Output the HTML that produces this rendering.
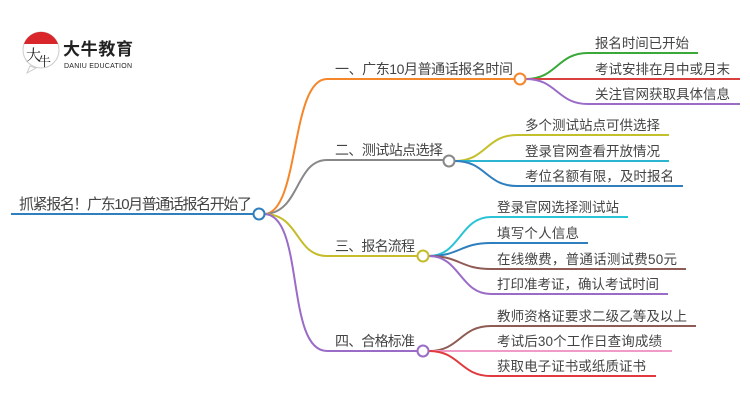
<!DOCTYPE html>
<html><head><meta charset="utf-8"><style>
html,body{margin:0;padding:0;background:#fff;width:750px;height:410px;overflow:hidden}
text{font-family:"Liberation Sans","Noto Sans CJK SC",sans-serif;fill:#444;font-size:13.5px}
</style></head><body>
<svg width="750" height="410" viewBox="0 0 750 410" xmlns="http://www.w3.org/2000/svg">
<!-- logo -->
<circle cx="41" cy="50" r="18" fill="#fff" stroke="#ccc" stroke-width="1"/>
<path d="M24,44 A18,18 0 0 1 58,44 Z" fill="#d9262b"/>
<path d="M30,66 L27,73 L36,68 Z" fill="#fff" stroke="#ccc" stroke-width="1"/>
<text x="26" y="60" style="font-size:15px;fill:#222;font-family:'Noto Serif CJK SC',serif">大</text>
<text x="38" y="66" style="font-size:13px;fill:#222;font-family:'Noto Serif CJK SC',serif">牛</text>
<text x="63" y="55" style="font-size:17px;font-weight:bold;fill:#222" textLength="70">大牛教育</text>
<text x="64" y="68" style="font-size:7px;fill:#222" textLength="68">DANIU EDUCATION</text>

<g fill="none" stroke-width="2">
<!-- root -->
<path d="M11,214 H254" stroke="#2f7fbf"/>
<!-- root to branches -->
<path d="M264,214 C300,214 290,79 327,79 H514" stroke="#f5862a"/>
<path d="M264,214 C300,214 295,160 327,160 H443" stroke="#888"/>
<path d="M264,214 C300,214 295,256 327,256 H417" stroke="#c4bc2a"/>
<path d="M264,214 C305,214 285,351 327,351 H417" stroke="#9a6bc7"/>
<!-- b1 subs -->
<path d="M526,79 C557,79 557,53 588,53 H698" stroke="#3aa93a"/>
<path d="M526,79 H740" stroke="#d9413e"/>
<path d="M526,79 C557,79 557,104 588,104 H740" stroke="#9b6bc8"/>
<!-- b2 subs -->
<path d="M455,161 C486,161 486,135 517,135 H669" stroke="#c4c02c"/>
<path d="M455,161 H669" stroke="#2bb5d1"/>
<path d="M455,161 C486,161 486,186 517,186 H683" stroke="#2f7fbf"/>
<!-- b3 subs -->
<path d="M429,256 C460,256 460,217 491,217 H628" stroke="#2bc3d6"/>
<path d="M429,256 C460,256 460,243 491,243 H588" stroke="#2f7fbf"/>
<path d="M429,256 C460,256 460,269 491,269 H686" stroke="#8f5c55"/>
<path d="M429,256 C460,256 460,294 491,294 H668" stroke="#9a6bc7"/>
<!-- b4 subs -->
<path d="M429,351 C460,351 460,326 491,326 H696" stroke="#8f5c55"/>
<path d="M429,351 H672" stroke="#f09ac8"/>
<path d="M429,351 C460,351 460,376 491,376 H656" stroke="#e0393e"/>
</g>
<g fill="#fff" stroke-width="2">
<circle cx="259" cy="214" r="5.5" stroke="#2f7fbf"/>
<circle cx="520" cy="79" r="5.5" stroke="#f5862a"/>
<circle cx="449" cy="161" r="5.5" stroke="#888"/>
<circle cx="423" cy="256" r="5.5" stroke="#c4bc2a"/>
<circle cx="423" cy="351" r="5.5" stroke="#9a6bc7"/>
</g>

<text x="19" y="209" style="font-size:15px" textLength="233">抓紧报名！广东10月普通话报名开始了</text>
<text x="335" y="74" style="font-size:14px" textLength="178">一、广东10月普通话报名时间</text>
<text x="335" y="155" style="font-size:14px" textLength="108">二、测试站点选择</text>
<text x="335" y="251" style="font-size:14px" textLength="80">三、报名流程</text>
<text x="335" y="346" style="font-size:14px" textLength="80">四、合格标准</text>

<text x="595" y="48" textLength="94">报名时间已开始</text>
<text x="595" y="74" textLength="135">考试安排在月中或月末</text>
<text x="595" y="99" textLength="135">关注官网获取具体信息</text>

<text x="525" y="130" textLength="135">多个测试站点可供选择</text>
<text x="525" y="156" textLength="135">登录官网查看开放情况</text>
<text x="525" y="181" textLength="149">考位名额有限，及时报名</text>

<text x="497" y="212" textLength="122">登录官网选择测试站</text>
<text x="497" y="238" textLength="82">填写个人信息</text>
<text x="497" y="264" textLength="180">在线缴费，普通话测试费50元</text>
<text x="497" y="289" textLength="162">打印准考证，确认考试时间</text>
<text x="497" y="321" textLength="190">教师资格证要求二级乙等及以上</text>
<text x="497" y="346" textLength="165">考试后30个工作日查询成绩</text>
<text x="497" y="371" textLength="149">获取电子证书或纸质证书</text>
</svg>
</body></html>
